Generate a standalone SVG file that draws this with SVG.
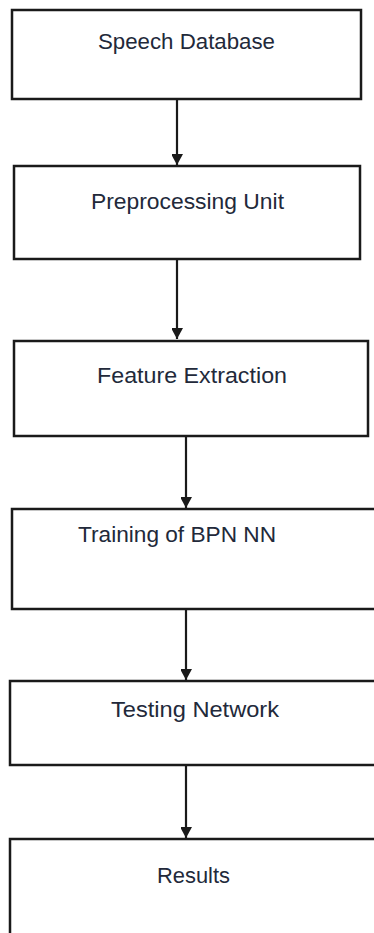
<svg xmlns="http://www.w3.org/2000/svg" width="374" height="933" viewBox="0 0 374 933">
<style>
.box{fill:#fff;stroke:#1a1a1a;stroke-width:2.5}
.lbl{font-family:"Liberation Sans",Arial,sans-serif;font-size:22.5px;fill:#22293a}
.conn{stroke:#1a1a1a;stroke-width:2.2;fill:none}
</style>
<defs>
<marker id="ah" markerWidth="13" markerHeight="11" refX="11" refY="6" orient="auto" markerUnits="userSpaceOnUse">
<path d="M0,0 L11,6 L0,12 Z" fill="#1a1a1a"/>
</marker>
</defs>
<rect width="374" height="933" fill="#fff"/>
<g id="connectors">
<line class="conn" x1="177" y1="99" x2="177" y2="165" marker-end="url(#ah)"/>
<line class="conn" x1="177" y1="259" x2="177" y2="339" marker-end="url(#ah)"/>
<line class="conn" x1="186" y1="436" x2="186" y2="508" marker-end="url(#ah)"/>
<line class="conn" x1="186" y1="609" x2="186" y2="680" marker-end="url(#ah)"/>
<line class="conn" x1="186" y1="765" x2="186" y2="838" marker-end="url(#ah)"/>
</g>
<g id="n1"><rect class="box" x="12" y="10" width="349" height="89"/><text class="lbl" x="98" y="49" textLength="177" lengthAdjust="spacingAndGlyphs">Speech Database</text></g>
<g id="n2"><rect class="box" x="14" y="166" width="346" height="93"/><text class="lbl" x="91" y="209" textLength="193" lengthAdjust="spacingAndGlyphs">Preprocessing Unit</text></g>
<g id="n3"><rect class="box" x="14" y="341" width="354" height="95"/><text class="lbl" x="97" y="383" textLength="190" lengthAdjust="spacingAndGlyphs">Feature Extraction</text></g>
<g id="n4"><rect class="box" x="12" y="509" width="370" height="100"/><text class="lbl" x="78" y="542" textLength="198" lengthAdjust="spacingAndGlyphs">Training of BPN NN</text></g>
<g id="n5"><rect class="box" x="10" y="681" width="372" height="84"/><text class="lbl" x="111" y="717" textLength="168" lengthAdjust="spacingAndGlyphs">Testing Network</text></g>
<g id="n6"><rect class="box" x="10" y="839" width="372" height="100"/><text class="lbl" x="157" y="883" textLength="73" lengthAdjust="spacingAndGlyphs">Results</text></g>
</svg>
